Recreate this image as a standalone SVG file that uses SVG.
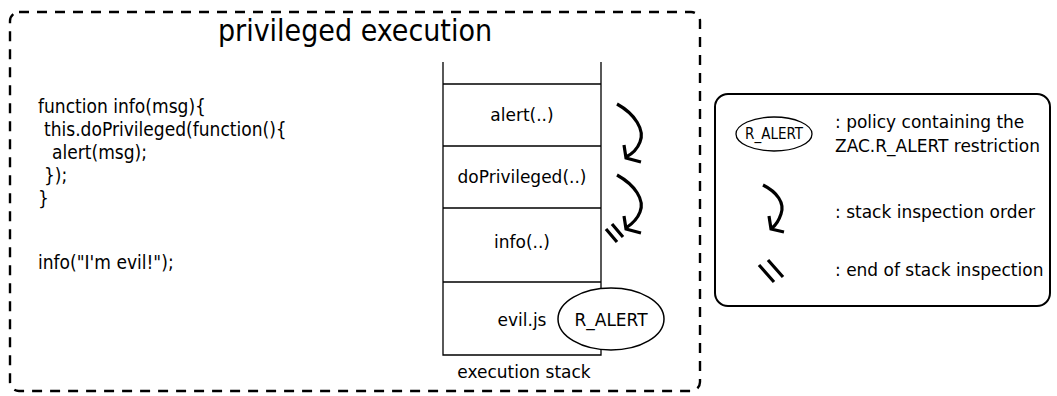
<svg xmlns="http://www.w3.org/2000/svg" width="1057" height="396" viewBox="0 0 1057 396">
<style>
.t{font-family:"DejaVu Sans Condensed","DejaVu Sans",sans-serif;fill:#000;font-stretch:condensed}
.code{font-size:19px}
.lbl{font-size:17px;font-family:"DejaVu Sans",sans-serif;font-stretch:normal}
.leg{font-size:17px;font-family:"DejaVu Sans",sans-serif;font-stretch:normal}
.ln{stroke:#000;stroke-width:1.3;fill:none}
.arr{stroke:#000;stroke-width:3.2;fill:none;stroke-linecap:butt}
</style>
<rect width="1057" height="396" fill="#fff"/>
<g id="frame">
<rect x="10" y="12" width="690" height="379" rx="9" fill="none" stroke="#000" stroke-width="2.4" stroke-dasharray="10 8"/>
<text class="t" x="355" y="41" font-size="30" text-anchor="middle">privileged execution</text>
</g>
<g id="code">
<text class="t code" x="38" y="113">function info(msg){</text>
<text class="t code" x="44" y="136">this.doPrivileged(function(){</text>
<text class="t code" x="52" y="159">alert(msg);</text>
<text class="t code" x="44" y="182">});</text>
<text class="t code" x="38" y="205">}</text>
<text class="t code" x="38" y="269">info("I'm evil!");</text>
</g>
<g id="stack">
<path class="ln" d="M443,62 V355 H601 V62 M443,84 H601 M443,146 H601 M443,208 H601 M443,282 H601"/>
<text class="t lbl" x="522" y="121" text-anchor="middle">alert(..)</text>
<text class="t lbl" x="522" y="183" text-anchor="middle">doPrivileged(..)</text>
<text class="t lbl" x="522" y="248" text-anchor="middle">info(..)</text>
<text class="t lbl" x="522" y="326" text-anchor="middle">evil.js</text>
<text class="t lbl" x="524" y="378" text-anchor="middle">execution stack</text>
</g>
<g id="policy">
<ellipse cx="611" cy="319" rx="53" ry="31" fill="#fff" stroke="#000" stroke-width="1.5"/>
<text class="t lbl" x="611" y="326" text-anchor="middle">R_ALERT</text>
</g>
<g id="connectors">
<path class="arr" d="M617,104 C635,114 645,130 640,142 C637,150 632,154 626,157"/>
<path class="arr" d="M624,145 L626,158 L641,162"/>
<path class="arr" d="M617,175 C635,185 645,200 640,212 C637,220 632,224 626,228"/>
<path class="arr" d="M624,216 L626,229 L641,233"/>
<path class="arr" d="M606,229 L617,242 M612,224 L623,237"/>
</g>
<g id="legend">
<rect x="715" y="94" width="335" height="212" rx="13" fill="none" stroke="#000" stroke-width="2"/>
<ellipse cx="774" cy="134" rx="38" ry="17" fill="#fff" stroke="#000" stroke-width="1.3"/>
<text class="t" x="774" y="139" font-size="15" text-anchor="middle" font-family="DejaVu Sans" font-stretch="normal">R_ALERT</text>
<text class="t leg" x="835" y="128">: policy containing the</text>
<text class="t leg" x="835" y="152">ZAC.R_ALERT restriction</text>
<path class="arr" d="M763,185 C777,192 785,203 781,214 C779,220 776,225 772,228"/>
<path class="arr" d="M769,216 L771,229 L784,232"/>
<text class="t leg" x="835" y="218">: stack inspection order</text>
<path class="arr" d="M759,265 L774,282 M768,260 L783,277"/>
<text class="t leg" x="835" y="276">: end of stack inspection</text>
</g>
</svg>
